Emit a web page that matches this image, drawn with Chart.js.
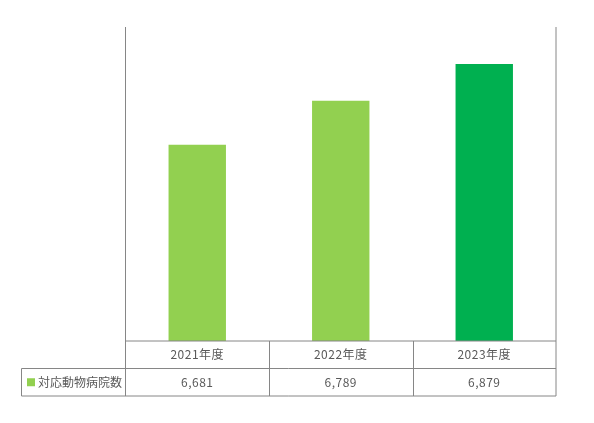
<!DOCTYPE html>
<html>
<head>
<meta charset="utf-8">
<script src="https://cdn.jsdelivr.net/npm/chart.js@4/dist/chart.umd.min.js"></script>
<style>
  html, body { margin: 0; padding: 0; background: #fff; }
  #wrap { width: 594px; height: 423px; }
</style>
</head>
<body>
<div id="wrap"><canvas id="c" width="594" height="423"></canvas></div>
<script>
const years = ['2021年度', '2022年度', '2023年度'];
const hospitals = [6681, 6789, 6879];
const barColors = ['#92D050', '#92D050', '#00B050'];
const seriesName = '対応動物病院数';

const lineC = '#868686', textC = '#595959';
const font = '12px "Noto Sans CJK JP", "Noto Sans", sans-serif';
const rowH = 27.5, legendLeft = 21.5;

// data table under the plot, drawn from the x scale's own positions
const tablePlugin = {
  id: 'dataTable',
  afterDraw(chart) {
    const { ctx, chartArea: a, scales: { x } } = chart;
    const r1 = a.bottom + rowH, r2 = a.bottom + rowH * 2;
    ctx.save();
    ctx.strokeStyle = lineC;
    ctx.lineWidth = 1;
    ctx.beginPath();
    ctx.moveTo(a.left, a.top); ctx.lineTo(a.left, r2);
    ctx.moveTo(a.right, a.top); ctx.lineTo(a.right, r2);
    ctx.moveTo(a.left, a.bottom); ctx.lineTo(a.right, a.bottom);
    ctx.moveTo(legendLeft, r1); ctx.lineTo(a.right, r1);
    ctx.moveTo(legendLeft, r2); ctx.lineTo(a.right, r2);
    ctx.moveTo(legendLeft, r1); ctx.lineTo(legendLeft, r2);
    for (let i = 0; i < years.length - 1; i++) {
      const d = Math.round((x.getPixelForValue(i) + x.getPixelForValue(i + 1)) / 2) + 0.5;
      ctx.moveTo(d, a.bottom); ctx.lineTo(d, r2);
    }
    ctx.stroke();

    ctx.font = font;
    ctx.fillStyle = textC;
    ctx.textAlign = 'center';
    ctx.textBaseline = 'middle';
    ctx.letterSpacing = '0.5px';
    years.forEach((y, i) => {
      const cx = x.getPixelForValue(i);
      ctx.fillText(y, cx, a.bottom + rowH / 2);
      ctx.fillText(hospitals[i].toLocaleString('en-US'), cx, r1 + rowH / 2);
    });
    ctx.letterSpacing = '0px';
    ctx.fillStyle = barColors[0];
    ctx.fillRect(27, r1 + rowH / 2 - 4, 8, 8);
    ctx.fillStyle = textC;
    ctx.textAlign = 'left';
    ctx.fillText(seriesName, 38, r1 + rowH / 2);
    ctx.restore();
  }
};

new Chart(document.getElementById('c'), {
  type: 'bar',
  data: {
    labels: years,
    datasets: [{
      label: seriesName,
      data: hospitals,
      backgroundColor: barColors,
      borderWidth: 0,
      categoryPercentage: 0.8,
      barPercentage: 0.5
    }]
  },
  options: {
    responsive: false,
    animation: false,
    devicePixelRatio: 1,
    layout: { padding: { left: 125.5, right: 38, top: 27, bottom: 82 } },
    plugins: { legend: { display: false }, tooltip: { enabled: false } },
    scales: {
      x: { display: false },
      y: { display: false, min: 6200, max: 6970 }
    }
  },
  plugins: [tablePlugin]
});
</script>
</body>
</html>
